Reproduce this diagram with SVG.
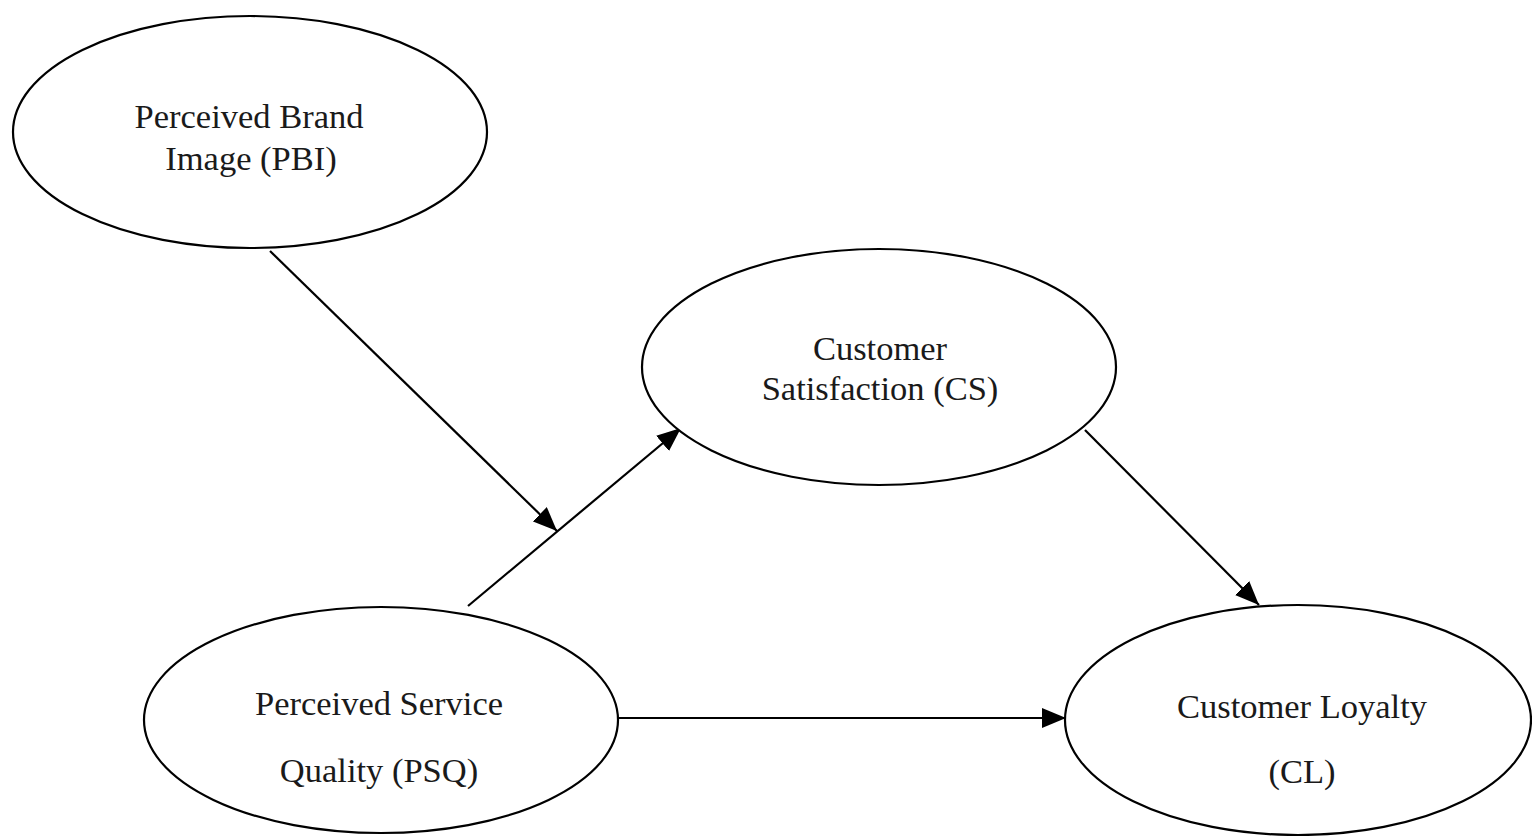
<svg xmlns="http://www.w3.org/2000/svg" width="1532" height="836" viewBox="0 0 1532 836">
<style>
.node ellipse{fill:#fff;stroke:#000;stroke-width:2.2}
.node text{font-family:"Liberation Serif","Times New Roman",serif;font-size:34.5px;fill:#1a1a1a;text-anchor:middle}
.edges line{stroke:#000;stroke-width:2.2;fill:none}
</style>
<defs>
<marker id="ah" markerUnits="userSpaceOnUse" markerWidth="26" markerHeight="20" refX="24" refY="10" orient="auto">
<path d="M0,0 L24,10 L0,20 Z" fill="#000"/>
</marker>
</defs>
<rect width="1532" height="836" fill="#fff"/>
<g class="edges">
<line x1="270" y1="251" x2="557" y2="531" marker-end="url(#ah)"/>
<line x1="468" y1="606" x2="681" y2="428" marker-end="url(#ah)"/>
<line x1="1085" y1="430" x2="1259" y2="605" marker-end="url(#ah)"/>
<line x1="618" y1="718" x2="1066" y2="718" marker-end="url(#ah)"/>
</g>
<g id="pbi" class="node">
<ellipse cx="250" cy="132" rx="237" ry="116"/>
<text x="249" y="128">Perceived Brand</text>
<text x="251" y="170">Image (PBI)</text>
</g>
<g id="cs" class="node">
<ellipse cx="879" cy="367" rx="237" ry="118"/>
<text x="880" y="360">Customer</text>
<text x="880" y="400">Satisfaction (CS)</text>
</g>
<g id="psq" class="node">
<ellipse cx="381" cy="720" rx="237" ry="113"/>
<text x="379" y="715">Perceived Service</text>
<text x="379" y="782">Quality (PSQ)</text>
</g>
<g id="cl" class="node">
<ellipse cx="1298" cy="720" rx="233" ry="115"/>
<text x="1302" y="718">Customer Loyalty</text>
<text x="1302" y="783">(CL)</text>
</g>
</svg>
